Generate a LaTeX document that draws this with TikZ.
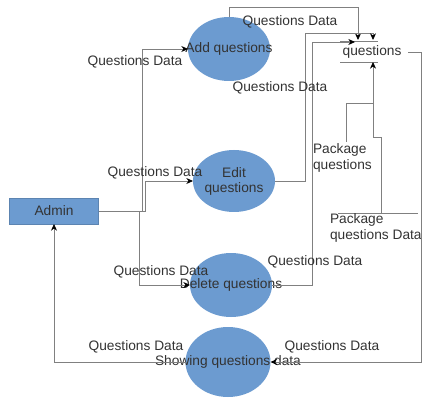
\documentclass[tikz,border=0pt]{standalone}
\usepackage{fontspec}
\setmainfont{Liberation Sans}
\usetikzlibrary{shapes.geometric}
\usetikzlibrary{arrows.meta}

\begin{document}
\begin{tikzpicture}[x={(0.75pt,0pt)}, y={(0pt,-0.75pt)},
    %Option for small black arrows
    inner sep=0pt, outer sep=0pt,%
    font=\fontsize{10.3}{11.3}\selectfont,
    process/.style={ellipse, fill=procblue, minimum width=61.5pt, minimum height=48pt},
    entity/.style={rectangle, fill=procblue, draw=procblue!85!black, line width=0.5pt,
        minimum width=66.75pt, minimum height=19.5pt, text=txtgray},
    lbl/.style={text=txtgray},
    store/.style={draw=linegray, line width=0.6pt},
    flow/.style={draw=linegray, line width=0.6pt, -{Stealth[black,length=5pt,width=4.5pt]}},
]
    % Colors
    \definecolor{procblue}{RGB}{108,155,208}
    \definecolor{txtgray}{RGB}{51,51,51}
    \definecolor{linegray}{RGB}{128,128,128}

    \useasboundingbox (0,0) rectangle (423,398);

    % Processes
    \node[process] (add) at (229,49) {};
    \node[process, minimum height=46.5pt] (edit) at (234,181) {};
    \node[process] (delete) at (231,285) {};
    \node[process, minimum width=63.75pt, minimum height=52.5pt] (show) at (228,362) {};
    \node[lbl] (addtxt) at (add) {Add questions};
    \node[lbl, align=center] (edittxt) at (edit) {Edit\\questions};
    \node[lbl] (deletetxt) at (delete) {Delete questions};
    \node[lbl] (showtxt) at (show) {Showing questions data};

    % Admin
    \node[entity] (admin) at (54,211) {Admin};

    % Data stores
    \coordinate (qsTL) at (340,41);
    \coordinate (qsTR) at (378,41);
    \coordinate (qsBL) at (340,62);
    \coordinate (qsBR) at (378,62);
    \draw[store] (qsTL) -- (qsTR);
    \draw[store] (qsBL) -- (qsBR);
    \node[lbl] (qs) at (372,52) {questions};

    \coordinate (pkL) at (338,213);
    \coordinate (pkR) at (418,213);
    \draw[store] (pkL) -- (pkR);
    \node[lbl, align=left, anchor=north west] (pk) at (330,214) {Package\\questions Data};

    % Admin to processes
    \draw[flow] (admin.east) -- (142,211) |- (add.west);
    \draw[flow] (admin.east) -- (145,211) |- (edit.west);
    \draw[flow] (admin.east) -- (139,211) |- (delete.west);
    \draw[flow] (show.west) -| (admin.south);

    % Processes to questions
    \coordinate (qsIn1) at (358,40);
    \coordinate (qsIn2) at (373,40);
    \coordinate (qsIn3) at (355,42);
    \coordinate (qsOut) at (408,52);
    \draw[flow] (add.north) |- (358,7) -- (qsIn1);
    \draw[flow] (edit.east) -| (305,33) -| (qsIn2);
    \draw[flow] (delete.east) -| (312,42) -- (qsIn3);
    \draw[flow] (qsOut) -- ++(13,0) |- (show.east);

    % Package questions
    \coordinate (pkOut) at (381,213);
    \coordinate (qsIn4) at (373,62);
    \draw[flow] (pkOut) |- (373,137) -- (qsIn4);
    \node[lbl, align=left, anchor=north west] (pkq) at (313,144) {Package\\questions};
    \coordinate (pkqIn) at (346,142);
    \draw[store] (pkqIn) |- (373,103);

    % Flow labels
    \node[lbl] (lAddIn) at (135,62) {Questions Data};
    \node[lbl] (lAddOut) at (290,22) {Questions Data};
    \node[lbl] (lAddMid) at (280,88) {Questions Data};
    \node[lbl] (lEditIn) at (155,173) {Questions Data};
    \node[lbl] (lDelIn) at (161,272) {Questions Data};
    \node[lbl] (lDelOut) at (315,262) {Questions Data};
    \node[lbl] (lShowIn) at (136,347) {Questions Data};
    \node[lbl] (lShowOut) at (332,347) {Questions Data};
\end{tikzpicture}
\end{document}
